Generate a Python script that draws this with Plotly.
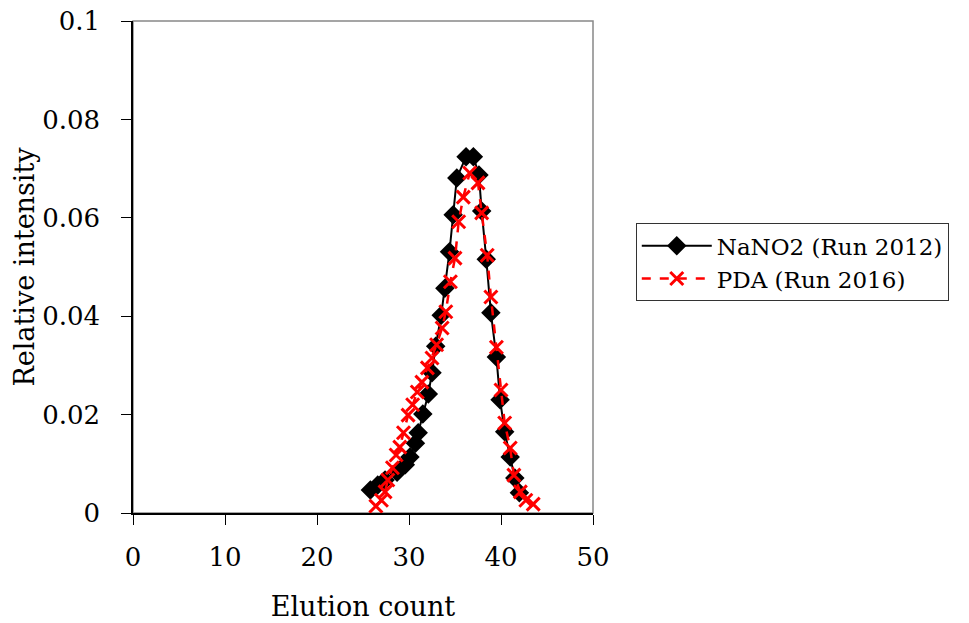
import plotly.graph_objects as go

# NaNO2 (Run 2012)
nano2_x = [25.8, 26.6, 27.4, 28.7, 29.6, 30.1, 30.7, 31.0, 31.5, 32.1, 32.5, 32.9, 33.5, 33.9,
           34.4, 34.8, 35.2, 36.2, 37.0, 37.6, 37.9, 38.4, 38.9, 39.5, 39.9, 40.4, 41.0, 41.5, 42.0]
nano2_y = [0.0047, 0.0057, 0.0067, 0.0083, 0.0098, 0.0114, 0.0142, 0.0163, 0.0201, 0.0242, 0.0285,
           0.0339, 0.0402, 0.0457, 0.0531, 0.0606, 0.0681, 0.0724, 0.0724, 0.0687, 0.0614, 0.0516,
           0.0407, 0.0317, 0.0230, 0.0165, 0.0114, 0.0071, 0.0041]

# PDA (Run 2016)
pda_x = [26.4, 27.0, 27.4, 27.7, 28.2, 28.6, 29.0, 29.4, 29.9, 30.4, 30.9, 31.4, 32.0, 32.5,
         33.0, 33.6, 34.0, 34.5, 35.0, 35.4, 35.9, 36.6, 37.5, 37.9, 38.5, 38.9, 39.5, 40.0,
         40.4, 41.0, 41.4, 42.1, 42.7, 43.5]
pda_y = [0.0014, 0.0026, 0.0043, 0.0067, 0.0092, 0.0118, 0.0134, 0.0163, 0.0199, 0.0220, 0.0246,
         0.0266, 0.0295, 0.0315, 0.0342, 0.0376, 0.0409, 0.0470, 0.0518, 0.0592, 0.0642, 0.0691,
         0.0671, 0.0610, 0.0524, 0.0439, 0.0337, 0.0250, 0.0183, 0.0132, 0.0077, 0.0043, 0.0026,
         0.0018]

x_ticks = [0, 10, 20, 30, 40, 50]
y_ticks = [0, 0.02, 0.04, 0.06, 0.08, 0.1]
y_tick_labels = ["0", "0.02", "0.04", "0.06", "0.08", "0.1"]

FONT = "DejaVu Serif"

fig = go.Figure()
fig.add_trace(go.Scatter(
    x=nano2_x, y=nano2_y, mode="lines+markers", name="NaNO2 (Run 2012)",
    line=dict(color="black", width=2),
    marker=dict(symbol="diamond", size=15, color="black"),
))
fig.add_trace(go.Scatter(
    x=pda_x, y=pda_y, mode="lines+markers", name="PDA (Run 2016)",
    line=dict(color="red", width=2.5, dash="dash"),
    marker=dict(symbol="x-thin", size=13, color="red", line=dict(color="red", width=3)),
))

axis_common = dict(showgrid=False, zeroline=False, ticks="outside", ticklen=10,
                   tickwidth=1, tickcolor="black", showline=True, linecolor="black",
                   linewidth=1.5, automargin=False,
                   tickfont=dict(family=FONT, size=26, color="black"))

fig.update_layout(
    width=969, height=623,
    margin=dict(l=133, r=376, t=21, b=110),
    paper_bgcolor="white", plot_bgcolor="white",
    font=dict(family=FONT, size=26, color="black"),
    xaxis=dict(range=[0, 50], tickvals=x_ticks, ticklabelstandoff=10,
               title=dict(text="Elution count", font=dict(family=FONT, size=27), standoff=26),
               **axis_common),
    yaxis=dict(range=[0, 0.1], tickvals=y_ticks, ticktext=y_tick_labels, ticklabelstandoff=16,
               title=dict(text="Relative intensity", font=dict(family=FONT, size=27), standoff=0),
               **axis_common),
    xaxis2=dict(range=[0, 50], tickvals=x_ticks, overlaying="x", anchor="y", side="bottom",
                ticks="inside", ticklen=10, tickcolor="black", showticklabels=False,
                showline=False, showgrid=False, zeroline=False, automargin=False),
    yaxis2=dict(range=[0, 0.1], tickvals=y_ticks, overlaying="y", anchor="x", side="left",
                ticks="inside", ticklen=10, tickcolor="black", showticklabels=False,
                showline=False, showgrid=False, zeroline=False, automargin=False),
    legend=dict(x=1.093, y=0.589, xanchor="left", yanchor="top",
                bgcolor="white", bordercolor="#333333", borderwidth=1,
                font=dict(family=FONT, size=23, color="black"),
                itemwidth=70, tracegroupgap=4),
    showlegend=True,
    shapes=[dict(type="rect", xref="paper", yref="paper", x0=0, y0=0, x1=1, y1=1,
                 line=dict(color="#888888", width=1.5), layer="below")],
)

fig.write_html("out.html")
